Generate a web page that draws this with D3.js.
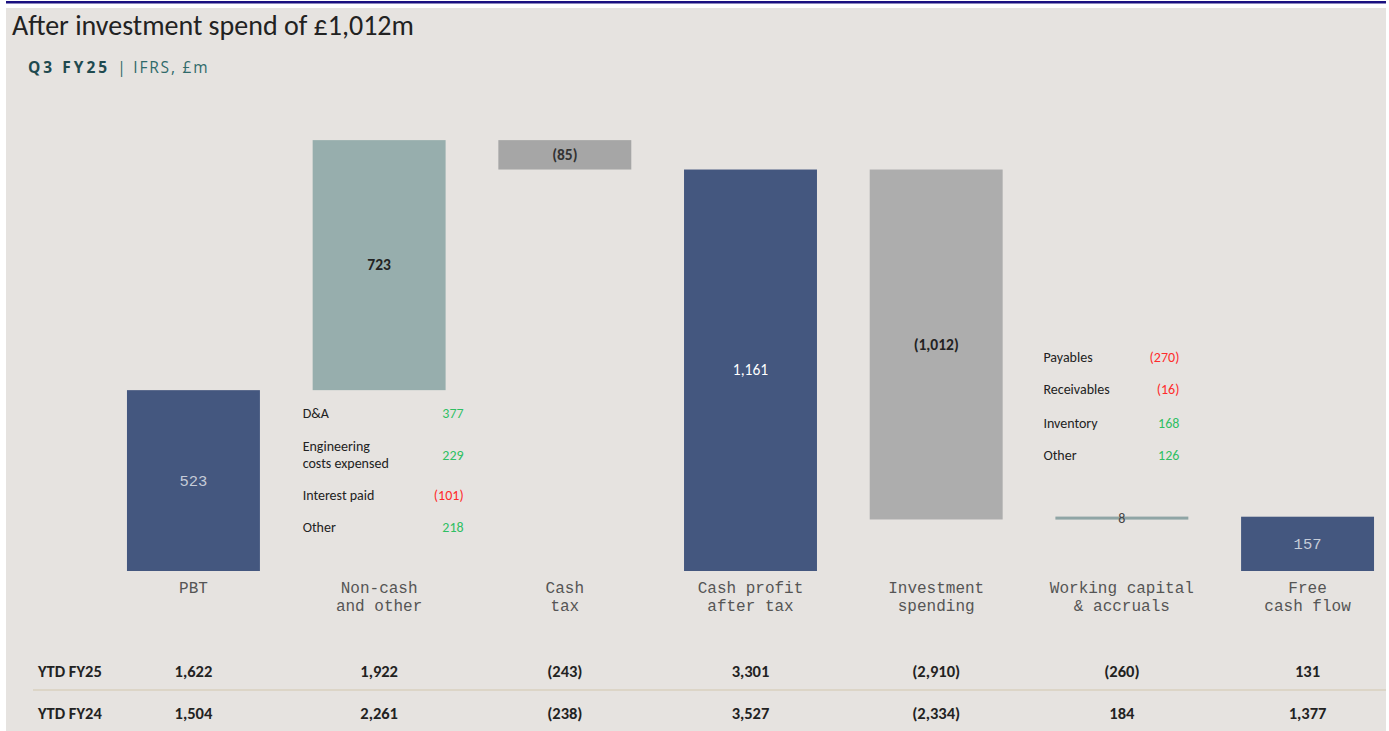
<!DOCTYPE html>
<html>
<head>
<meta charset="utf-8">
<script src="https://cdn.jsdelivr.net/npm/d3@7/dist/d3.min.js"></script>
<style>
  html, body { margin: 0; padding: 0; background: #fff; }
  svg { display: block; }
</style>
</head>
<body>
<div id="chart"></div>
<script>
// chart data
var categories = ["PBT", "Non-cash|and other", "Cash|tax", "Cash profit|after tax",
                  "Investment|spending", "Working capital|& accruals", "Free|cash flow"];
var barValues = [523, 723, -85, 1161, -1012, 8, 157];
var barKinds = ["total", "delta", "delta", "total", "delta", "delta", "total"];
var barLabels = ["523", "723", "(85)", "1,161", "(1,012)", "8", "157"];

var rowNames = ["YTD FY25", "YTD FY24"];
var ytdFY25 = ["1,622", "1,922", "(243)", "3,301", "(2,910)", "(260)", "131"];
var ytdFY24 = ["1,504", "2,261", "(238)", "3,527", "(2,334)", "184", "1,377"];

var nonCashLabels = ["D&A", "Engineering|costs expensed", "Interest paid", "Other"];
var nonCashValues = [377, 229, -101, 218];
var wcLabels = ["Payables", "Receivables", "Inventory", "Other"];
var wcValues = [-270, -16, 168, 126];

var width = 1389,
    height = 731;

var sans = "Carlito, Calibri, Lato, 'Open Sans', sans-serif";
var mono = "'Liberation Mono', 'DejaVu Sans Mono', monospace";

var svg = d3.select("#chart").append("svg")
    .attr("width", width)
    .attr("height", height);

// panel + top rule
svg.append("rect").attr("x", 0).attr("y", 0).attr("width", width).attr("height", height).attr("fill", "#ffffff");
svg.append("rect").attr("x", 6).attr("y", 8).attr("width", 1380).attr("height", height - 8).attr("fill", "#e6e3e0");
svg.append("rect").attr("x", 6).attr("y", 1).attr("width", 1380).attr("height", 2.5).attr("fill", "#1a1080");

svg.append("text")
    .attr("x", 12).attr("y", 35)
    .style("font-family", sans).style("font-size", "28px").style("fill", "#222")
    .text("After investment spend of £1,012m");

var sub = svg.append("text")
    .attr("x", 28).attr("y", 73)
    .style("font-family", "'Open Sans', sans-serif").style("font-size", "15.5px");
sub.append("tspan").style("font-weight", "bold").style("letter-spacing", "3px").style("fill", "#1f4a4f").text("Q3 FY25 ");
sub.append("tspan").style("fill", "#2f6a6a").style("letter-spacing", "1.8px").text("| IFRS, £m");

// scales
var x = d3.scaleBand()
    .domain(d3.range(categories.length))
    .range([100.6, 1400.4])
    .paddingInner(0.284)
    .paddingOuter(0.142);

var y = d3.scaleLinear()
    .domain([0, 1300])
    .range([571, 571 - 1300 * 0.3458]);

// waterfall extents
var bars = [];
var running = 0;
barValues.forEach(function (v, i) {
    var y0, y1;
    if (barKinds[i] === "total") {
        y0 = 0; y1 = v; running = v;
    } else {
        y0 = running; y1 = running + v; running = y1;
    }
    bars.push({i: i, lo: Math.min(y0, y1), hi: Math.max(y0, y1), kind: barKinds[i], value: v});
});

var fills = ["#44577f", "#97aead", "#a6a6a6", "#44577f", "#adadad", "#8fa5a5", "#44577f"];

svg.selectAll("rect.bar")
    .data(bars)
    .enter().append("rect")
    .attr("class", "bar")
    .attr("x", function (d) { return x(d.i); })
    .attr("width", x.bandwidth())
    .attr("y", function (d) {
        var h = y(d.lo) - y(d.hi);
        return h < 3 ? (y(d.hi) + y(d.lo)) / 2 - 1.5 : y(d.hi);
    })
    .attr("height", function (d) { return Math.max(3, y(d.lo) - y(d.hi)); })
    .attr("fill", function (d) { return fills[d.i]; });

// bar value labels
var labelStyle = [
    {font: mono, size: "15.5px", weight: "normal", color: "#c6ccd8"},
    {font: sans, size: "15.5px", weight: "bold", color: "#222"},
    {font: sans, size: "15.5px", weight: "bold", color: "#333"},
    {font: sans, size: "15.5px", weight: "normal", color: "#ffffff"},
    {font: sans, size: "15.5px", weight: "bold", color: "#222"},
    {font: sans, size: "14px", weight: "normal", color: "#444"},
    {font: mono, size: "15.5px", weight: "normal", color: "#c6ccd8"}
];

svg.selectAll("text.val")
    .data(bars)
    .enter().append("text")
    .attr("class", "val")
    .attr("x", function (d) { return x(d.i) + x.bandwidth() / 2; })
    .attr("y", function (d) { return (y(d.lo) + y(d.hi)) / 2 + 5; })
    .attr("text-anchor", "middle")
    .style("font-family", function (d) { return labelStyle[d.i].font; })
    .style("font-size", function (d) { return labelStyle[d.i].size; })
    .style("font-weight", function (d) { return labelStyle[d.i].weight; })
    .style("fill", function (d) { return labelStyle[d.i].color; })
    .text(function (d) { return barLabels[d.i]; });

// category labels
var cats = svg.selectAll("text.cat")
    .data(categories)
    .enter().append("text")
    .attr("class", "cat")
    .attr("text-anchor", "middle")
    .style("font-family", mono).style("font-size", "16px").style("fill", "#555");
cats.each(function (c, i) {
    var t = d3.select(this);
    c.split("|").forEach(function (line, k) {
        t.append("tspan")
            .attr("x", x(i) + x.bandwidth() / 2)
            .attr("y", 593 + k * 18)
            .text(line);
    });
});

// breakdown lists
function fmt(v) {
    return v < 0 ? "(" + Math.abs(v) + ")" : String(v);
}
function breakdown(labels, values, xLabel, xValue, ys) {
    labels.forEach(function (lab, k) {
        var lines = lab.split("|");
        var t = svg.append("text")
            .style("font-family", sans).style("font-size", "14px").style("fill", "#222");
        lines.forEach(function (line, j) {
            t.append("tspan")
                .attr("x", xLabel)
                .attr("y", ys[k] + 4.5 + (j - (lines.length - 1) / 2) * 16.5)
                .text(line);
        });
        svg.append("text")
            .attr("x", xValue).attr("y", ys[k] + 4.5)
            .attr("text-anchor", "end")
            .style("font-family", sans).style("font-size", "14px")
            .style("fill", values[k] < 0 ? "#ff2b2b" : "#2fbf63")
            .text(fmt(values[k]));
    });
}
var ncLeft = x(1) - 10;
var wcLeft = x(5) - 12;
breakdown(nonCashLabels, nonCashValues, ncLeft, ncLeft + 161, [413, 455, 495, 527]);
breakdown(wcLabels, wcValues, wcLeft, wcLeft + 136, [357, 389, 423, 455]);

// table
svg.append("line")
    .attr("x1", 33).attr("x2", 1386)
    .attr("y1", 690).attr("y2", 690)
    .attr("stroke", "#d8d1bf").attr("stroke-width", 1.5);

[ytdFY25, ytdFY24].forEach(function (row, r) {
    var yy = 677 + r * 42;
    svg.append("text")
        .attr("x", 38).attr("y", yy)
        .style("font-family", sans).style("font-size", "16.5px").style("font-weight", "bold").style("fill", "#222")
        .text(rowNames[r]);
    svg.selectAll(null)
        .data(row)
        .enter().append("text")
        .attr("x", function (d, i) { return x(i) + x.bandwidth() / 2; })
        .attr("y", yy)
        .attr("text-anchor", "middle")
        .style("font-family", sans).style("font-size", "16.5px").style("font-weight", "bold").style("fill", "#222")
        .text(function (d) { return d; });
});
</script>
</body>
</html>
